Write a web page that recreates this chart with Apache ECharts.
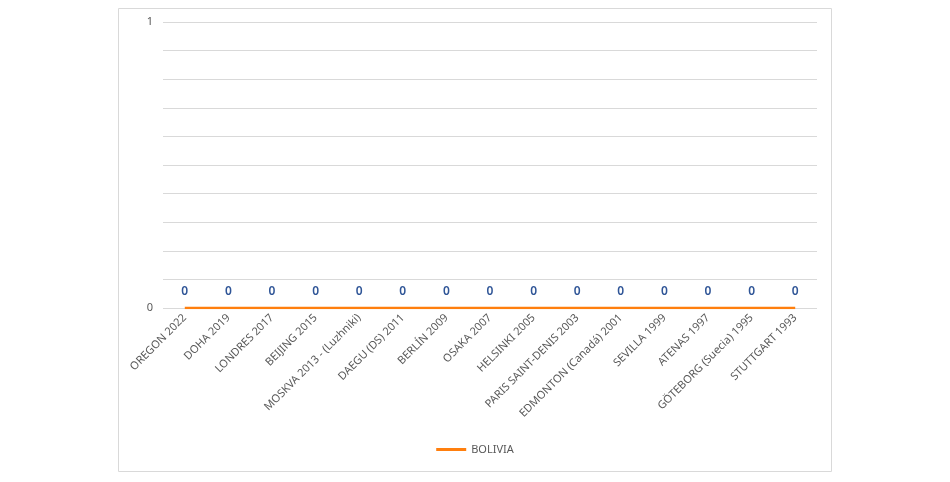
<!DOCTYPE html>
<html><head><meta charset="utf-8">
<script src="https://cdn.jsdelivr.net/npm/echarts@6/dist/echarts.min.js"></script>
<style>html,body{margin:0;padding:0;background:#fff}#c{width:950px;height:482px}</style>
</head><body><div id="c"></div>
<script>
const categories = ["OREGON 2022","DOHA 2019","LONDRES 2017","BEIJING 2015","MOSKVA 2013 - (Luzhniki)","DAEGU (DS) 2011","BERLÍN 2009","OSAKA 2007","HELSINKI 2005","PARIS SAINT-DENIS 2003","EDMONTON (Canadá) 2001","SEVILLA 1999","ATENAS 1997","GÖTEBORG (Suecia) 1995","STUTTGART 1993"];
const bolivia = [0,0,0,0,0,0,0,0,0,0,0,0,0,0,0];
const seriesName = "BOLIVIA";
const chart = echarts.init(document.getElementById('c'));
chart.setOption({
  animation:false,
  textStyle:{fontFamily:'Noto Sans'},
  graphic:[{type:'rect',shape:{x:118.5,y:8.5,width:713,height:463},style:{fill:'none',stroke:'#d9d9d9',lineWidth:1},silent:true}],
  grid:{left:163,right:133,top:22,bottom:174,containLabel:false},
  legend:{bottom:22,left:'center',itemWidth:30,itemHeight:3,icon:'rect',itemGap:5,
    textStyle:{color:'#595959',fontSize:11,fontFamily:'Noto Sans'},data:[seriesName]},
  xAxis:{type:'category',data:categories,boundaryGap:true,
    axisLine:{show:false},axisTick:{show:false},
    axisLabel:{rotate:45,interval:0,color:'#595959',fontSize:11,margin:8,fontFamily:'Noto Sans'}},
  yAxis:{type:'value',min:0,max:1,interval:0.1,
    axisLine:{show:false},axisTick:{show:false},
    splitLine:{lineStyle:{color:'#d9d9d9',width:1}},
    axisLabel:{color:'#595959',fontSize:11,margin:10,
      formatter:v=> (Math.abs(v)<1e-9?'0':(Math.abs(v-1)<1e-9?'1':''))}},
  series:[{name:seriesName,type:'line',data:bolivia,symbol:'circle',symbolSize:0,showSymbol:true,
    lineStyle:{color:'#FF7F0E',width:2.5},itemStyle:{color:'#FF7F0E'},
    label:{show:true,position:'top',distance:10,color:'#2F5597',fontSize:12,fontWeight:600,fontFamily:'Noto Sans'}}]
});
</script></body></html>
